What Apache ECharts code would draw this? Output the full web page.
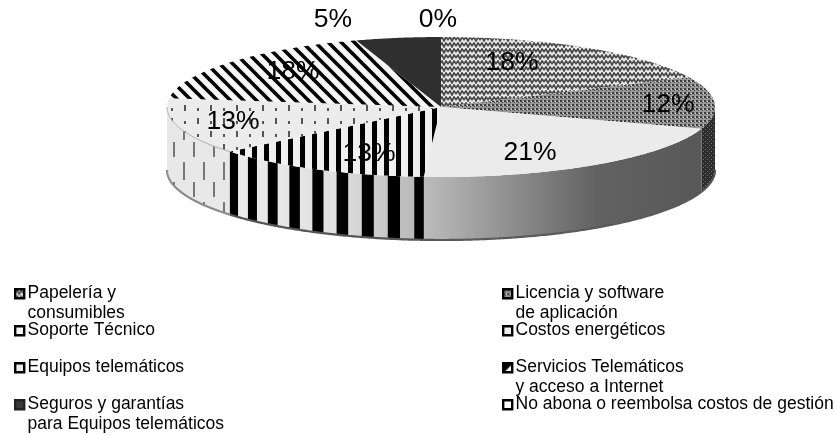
<!DOCTYPE html>
<html><head><meta charset="utf-8">
<style>html,body{margin:0;padding:0;background:#fff}#c{width:835px;height:435px;filter:blur(0.35px)}</style>
<script src="https://cdn.jsdelivr.net/npm/echarts@6/dist/echarts.min.js"></script>
</head><body><div id="c"></div>
<script>
// ---- data ----
const categories = ['Papelería y\nconsumibles','Licencia y software\nde aplicación','Soporte Técnico','Costos energéticos','Equipos telemáticos','Servicios Telemáticos\ny acceso a Internet','Seguros y garantías\npara Equipos telemáticos','No abona o reembolsa costos de gestión'];
const shares = [18,12,21,13,13,18,5,0];

// ---- layout ----
const CX=441, CY=107, RX=274, RY=70, DEPTH=63;
const labelAnchors=[[512,63],[668,105],[530,153],[369,154],[233,122],[293,72],[333,20],[438,20]];
const legendColX=[14,502], legendRowY=[293,330,367,404];
const FONT='"Liberation Sans", Arial, sans-serif';

function tile(w,h,draw){const c=document.createElement('canvas');c.width=w;c.height=h;draw(c.getContext('2d'));return {image:c,repeat:'repeat'};}
const pat={
  zig:tile(8,6,g=>{g.fillStyle='#e8e8e8';g.fillRect(0,0,8,6);g.strokeStyle='#4a4a4a';g.lineWidth=1.7;
    g.beginPath();g.moveTo(-1,5);g.lineTo(2,1);g.lineTo(4,5);g.lineTo(6,1);g.lineTo(9,5);g.stroke();}),
  dots:tile(4,4,g=>{g.fillStyle='#9a9a9a';g.fillRect(0,0,4,4);g.fillStyle='#3a3a3a';g.fillRect(0,0,2,2);g.fillRect(2,2,1,1);g.fillStyle='#d0d0d0';g.fillRect(3,1,1,1);}),
  vert:tile(12,4,g=>{g.fillStyle='#f0f0f0';g.fillRect(0,0,12,4);g.fillStyle='#000';g.fillRect(0,0,5,4);}),
  sprinkle:tile(26,26,g=>{g.fillStyle='#ececec';g.fillRect(0,0,26,26);g.fillStyle='#555';
    [[2,1],[15,14],[15,1],[2,14]].forEach((p,i)=>g.fillRect(p[0],p[1]+(i>1?3:0),2,i>1?3:6));}),
  diag:tile(13,13,g=>{g.fillStyle='#f6f6f6';g.fillRect(0,0,13,13);g.strokeStyle='#000';g.lineWidth=3.6;
    for(const d of [-13,0,13]){g.beginPath();g.moveTo(d-2,-2);g.lineTo(d+15,15);g.stroke();}}),
  wallDash:tile(20,40,g=>{g.fillStyle='#e8e8e8';g.fillRect(0,0,20,40);g.fillStyle='#777';g.fillRect(3,2,2,18);g.fillRect(13,22,2,15);}),
  wallDark:tile(4,4,g=>{g.fillStyle='#2c2c2c';g.fillRect(0,0,4,4);g.fillStyle='#777';g.fillRect(1,1,1,1);g.fillRect(3,3,1,1);})
};
const grad=(stops)=>({type:'linear',x:0,y:0,x2:1,y2:0,colorStops:stops.map(s=>({offset:s[0],color:s[1]}))});
const topFills=[pat.zig,pat.dots,'#ebebeb',pat.vert,pat.sprinkle,pat.diag,'#2f2f2f','#ffffff'];
const wallFills=[pat.zig,pat.wallDark,grad([[0,'#bcbcbc'],[0.62,'#626262'],[1,'#585858']]),grad([[0,'#ececec'],[0.55,'#e0e0e0'],[1,'#b4b4b4']]),pat.wallDash,pat.diag,'#222','#fff'];
const rimColors=['#888','#555','#5a5a5a','#555','#8c8c8c','#888','#444','#888'];
const swatchFills=[pat.zig,pat.dots,'#f6f6f6','#f0f0f0','#eeeeee',
  tile(10,10,g=>{g.fillStyle='#fff';g.fillRect(0,0,10,10);g.fillStyle='#000';g.beginPath();g.moveTo(0,0);g.lineTo(10,0);g.lineTo(0,10);g.fill();}),'#3a3a3a','#ffffff'];

const pt=(deg,dy)=>{const r=deg*Math.PI/180;return [CX+RX*Math.sin(r),CY-RY*Math.cos(r)+(dy||0)];};
function arc(a,b,dy){const n=Math.max(2,Math.ceil(Math.abs(b-a)*2)),o=[];for(let i=0;i<=n;i++)o.push(pt(a+(b-a)*i/n,dy));return o;}
const band=(a,b)=>arc(a,b,0).concat(arc(b,a,DEPTH));

function renderSlice(params,api){
  const i=params.dataIndex, share=api.value(0), start=api.value(1)*3.6, end=start+share*3.6;
  const kids=[];
  if(share>0){
    const wa=Math.max(start,90), wb=Math.min(end,270);
    if(wb>wa){
      kids.push({type:'polygon',z2:1,shape:{points:band(wa,wb)},style:{fill:wallFills[i]}});
      if(i===3){ // black bands of the energy-cost wall
        for(let k=0;wb-k*5.6>wa;k++){
          kids.push({type:'polygon',z2:2,shape:{points:band(Math.max(wa,wb-k*5.6-2.6),wb-k*5.6)},style:{fill:'#000'}});
        }
      }
      kids.push({type:'polyline',z2:3,shape:{points:arc(wa,wb,DEPTH)},style:{fill:null,stroke:rimColors[i],lineWidth:2.2}});
      if(i===4) kids.push({type:'polyline',z2:5,shape:{points:arc(wa,wb,0)},style:{fill:null,stroke:'#aaa',lineWidth:1}});
    }
    kids.push({type:'polygon',z2:4,shape:{points:[[CX,CY]].concat(arc(start,end,0))},style:{fill:topFills[i]}});
  }
  kids.push({type:'text',z2:10,x:labelAnchors[i][0],y:labelAnchors[i][1],
    style:{text:share+'%',fill:'#000',font:'26.5px '+FONT,align:'center',verticalAlign:'middle'}});
  return {type:'group',children:kids};
}

let running=0;
const sliceData=shares.map(v=>{const d=[v,running];running+=v;return d;});

const legendEls=[];
categories.forEach((name,i)=>{
  const x=legendColX[i%2], y=legendRowY[Math.floor(i/2)];
  legendEls.push({type:'rect',left:x,top:y-5,shape:{width:9,height:9},style:{fill:swatchFills[i],stroke:i===6?'#222':'#000',lineWidth:2.4}});
  legendEls.push({type:'text',left:x+13.5,top:y-9.5,style:{text:name,fill:'#000',font:'17.5px '+FONT,lineHeight:20}});
});

const chart=echarts.init(document.getElementById('c'),null,{renderer:'canvas',width:835,height:435,devicePixelRatio:1});
chart.setOption({
  animation:false,
  backgroundColor:'#fff',
  graphic:legendEls,
  series:[{type:'custom',coordinateSystem:'none',silent:true,renderItem:renderSlice,data:sliceData}]
});
</script></body></html>
